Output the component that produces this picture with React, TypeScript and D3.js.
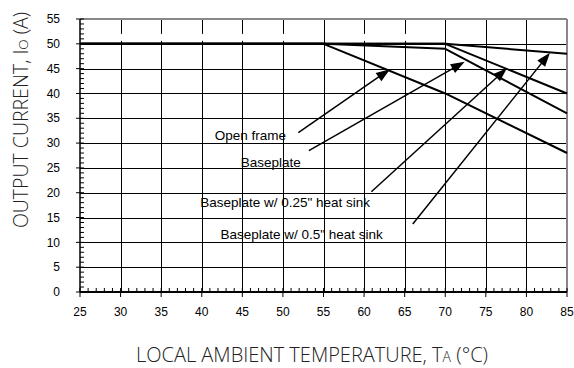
import React from "react";
import * as d3 from "d3";

const xTicks = [25, 30, 35, 40, 45, 50, 55, 60, 65, 70, 75, 80, 85];
const yTicks = [0, 5, 10, 15, 20, 25, 30, 35, 40, 45, 50, 55];

const openFrame: [number, number][] = [[25, 50], [55, 50], [70, 40], [85, 28]];
const baseplate: [number, number][] = [[25, 50], [55, 50], [70, 49], [85, 36]];
const heatSink025: [number, number][] = [[25, 50], [70, 50], [85, 40]];
const heatSink05: [number, number][] = [[25, 50], [70, 50], [85, 48]];
const seriesList = [openFrame, baseplate, heatSink025, heatSink05];

const labelNames = ["Open frame", "Baseplate", "Baseplate w/ 0.25\" heat sink", "Baseplate w/ 0.5\" heat sink"];
const labelPos: [number, number][] = [[41.6, 30.7], [44.8, 25.2], [39.8, 17.1], [42.3, 10.6]];
const arrowTail: [number, number][] = [[51.9, 32.1], [53.2, 28.5], [60.9, 20.2], [66.0, 13.7]];
const arrowTip: [number, number][] = [[63.2, 44.9], [72.4, 46.4], [77.6, 45.1], [82.9, 48.2]];

// gridlines drawn with a small break just above the 50 A line
const brokenGrid = [30, 35, 40, 45, 50, 60, 65];

const W = 574, H = 368;
const L = 80, R = 567, T = 19, B = 292;

export default function App() {
  const x = d3.scaleLinear().domain([25, 85]).range([L, R]);
  const y = d3.scaleLinear().domain([0, 55]).range([B, T]);
  const line = d3.line<[number, number]>().x(d => x(d[0])).y(d => y(d[1]));
  const minorX = d3.range(25, 86, 1);
  const minorY = d3.range(0, 56, 1);
  const labelFont = "'Liberation Sans', Arial, sans-serif";
  const titleFont = "'Open Sans', 'Noto Sans', sans-serif";

  const arrowHead = (tail: [number, number], tip: [number, number]) => {
    const x1 = x(tail[0]), y1 = y(tail[1]), x2 = x(tip[0]), y2 = y(tip[1]);
    const dx = x2 - x1, dy = y2 - y1;
    const len = Math.hypot(dx, dy);
    const ux = dx / len, uy = dy / len;
    const hl = 14, hw = 5;
    const bx = x2 - ux * hl, by = y2 - uy * hl;
    return {
      line: [x1, y1, bx + ux * 2, by + uy * 2],
      poly: `${x2},${y2} ${bx - uy * hw},${by + ux * hw} ${bx + uy * hw},${by - ux * hw}`,
    };
  };

  return (
    <div style={{ position: "absolute", left: 0, top: 0 }}>
      <svg width={W} height={H} style={{ display: "block", background: "#fff" }}>
        {/* grid */}
        {xTicks.slice(1, -1).map(t => (
          <line key={"gx" + t} x1={Math.round(x(t)) + 0.5} x2={Math.round(x(t)) + 0.5} y1={T} y2={B} stroke="#000" strokeWidth={1} />
        ))}
        {brokenGrid.map(t => (
          <line key={"gb" + t} x1={Math.round(x(t)) + 0.5} x2={Math.round(x(t)) + 0.5} y1={y(52.0)} y2={y(50.6)} stroke="#fff" strokeWidth={1.5} />
        ))}
        {yTicks.slice(1, -1).map(t => (
          <line key={"gy" + t} x1={L} x2={R} y1={Math.round(y(t)) + 0.5} y2={Math.round(y(t)) + 0.5} stroke="#000" strokeWidth={1} />
        ))}
        {/* frame top/right */}
        <line x1={L} x2={R} y1={T} y2={T} stroke="#888" strokeWidth={2} />
        <line x1={R} x2={R} y1={T} y2={B} stroke="#888" strokeWidth={2} />
        {/* axes */}
        <line x1={L} x2={L} y1={T} y2={B} stroke="#000" strokeWidth={1.5} />
        <line x1={L} x2={R} y1={B} y2={B} stroke="#000" strokeWidth={2} />
        {minorY.map(t => (
          <line key={"my" + t} x1={L} x2={L + 4} y1={y(t)} y2={y(t)} stroke="#000" strokeWidth={1} />
        ))}
        {yTicks.map(t => (
          <line key={"My" + t} x1={L - 4} x2={L} y1={y(t)} y2={y(t)} stroke="#000" strokeWidth={1} />
        ))}
        {minorX.map(t => (
          <line key={"mx" + t} x1={x(t)} x2={x(t)} y1={B} y2={B - 4} stroke="#000" strokeWidth={1} />
        ))}
        {xTicks.map(t => (
          <line key={"Mx" + t} x1={x(t)} x2={x(t)} y1={B} y2={B + 5} stroke="#000" strokeWidth={1} />
        ))}
        {/* tick labels */}
        {yTicks.map(t => (
          <text key={"ly" + t} x={L - 20} y={y(t)} dy="0.35em" textAnchor="end" fontFamily={labelFont} fontSize={12} fill="#000">{t}</text>
        ))}
        {xTicks.map(t => (
          <text key={"lx" + t} x={x(t)} y={B + 20} dy="0.35em" textAnchor="middle" fontFamily={labelFont} fontSize={12} fill="#000">{t}</text>
        ))}
        {/* series */}
        {seriesList.map((s, i) => (
          <path key={"s" + i} d={line(s) || ""} fill="none" stroke="#000" strokeWidth={2} strokeLinejoin="round" />
        ))}
        {/* annotations */}
        {labelNames.map((n, i) => (
          <text key={"an" + i} x={x(labelPos[i][0])} y={y(labelPos[i][1])} fontFamily={labelFont} fontSize={13.5} fill="#000">{n}</text>
        ))}
        {arrowTail.map((tl, i) => {
          const a = arrowHead(tl, arrowTip[i]);
          return (
            <g key={"ar" + i}>
              <line x1={a.line[0]} y1={a.line[1]} x2={a.line[2]} y2={a.line[3]} stroke="#000" strokeWidth={1.5} />
              <polygon points={a.poly} fill="#000" />
            </g>
          );
        })}
        {/* axis titles */}
        <text x={312} y={355} dy="0.35em" textAnchor="middle" fontFamily={titleFont} fontWeight={300} fontSize={20} fill="#222">
          LOCAL AMBIENT TEMPERATURE, T<tspan fontSize={14}>A</tspan> (°C)
        </text>
        <text transform="translate(21,120) rotate(-90)" dy="0.35em" textAnchor="middle" fontFamily={titleFont} fontWeight={300} fontSize={19.5} fill="#222">
          OUTPUT CURRENT, I<tspan fontSize={13.5}>O</tspan> (A)
        </text>
      </svg>
    </div>
  );
}
